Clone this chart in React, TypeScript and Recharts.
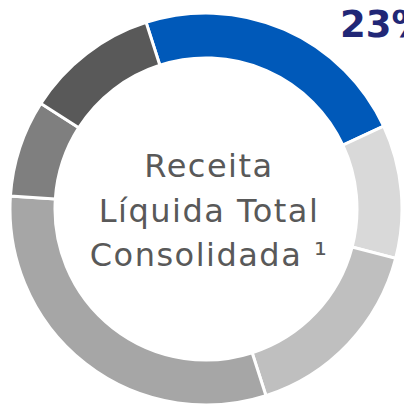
import { Cell, Label, Pie, PieChart } from 'recharts';

// fatias no sentido horário, a partir do segmento em destaque
const segments = ['Destaque', 'Segmento B', 'Segmento C', 'Segmento D', 'Segmento E', 'Segmento F'];
const shares = [23, 11, 16, 31, 8, 11];
const sliceColors = ['#0059B9', '#D9D9D9', '#BFBFBF', '#A6A6A6', '#7F7F7F', '#595959'];
const centerLines = ['Receita', 'Líquida Total', 'Consolidada ¹'];
const highlightLabel = '23%';

const data = segments.map((name, i) => ({ name, value: shares[i] }));

const CX = 206;
const CY = 209;

function HighlightLabel(props: any) {
  if (props.index !== 0) return null;
  const cx = props.cx ?? CX;
  const cy = props.cy ?? CY;
  return (
    <text
      x={cx + 134}
      y={cy - 172}
      textAnchor="start"
      fill="#212776"
      fontFamily="'DejaVu Sans', sans-serif"
      fontWeight={700}
      fontSize={37}
    >
      {highlightLabel}
    </text>
  );
}

function CenterText({ viewBox }: any) {
  const cx = viewBox?.cx ?? CX;
  const cy = viewBox?.cy ?? CY;
  const offsets = [-32, 13, 57];
  return (
    <g>
      {centerLines.map((line, i) => (
        <text
          key={line}
          x={cx + 3}
          y={cy + offsets[i]}
          textAnchor="middle"
          fill="#595959"
          fontFamily="'DejaVu Sans', sans-serif"
          fontSize={32}
          letterSpacing={1.5}
        >
          {line}
        </text>
      ))}
    </g>
  );
}

export default function App() {
  return (
    <div style={{ position: 'absolute', left: 0, top: 0, width: 404, height: 404, background: '#fff' }}>
      <PieChart width={404} height={404} margin={{ top: 0, right: 0, bottom: 0, left: 0 }}>
        <Pie
          data={data}
          dataKey="value"
          nameKey="name"
          cx={CX}
          cy={CY}
          innerRadius={151}
          outerRadius={196}
          startAngle={107.8}
          endAngle={-252.2}
          stroke="#ffffff"
          strokeWidth={3}
          label={HighlightLabel}
          labelLine={false}
          isAnimationActive={false}
        >
          {data.map((d, i) => (
            <Cell key={d.name} fill={sliceColors[i]} />
          ))}
          <Label position="center" content={CenterText} />
        </Pie>
      </PieChart>
    </div>
  );
}
